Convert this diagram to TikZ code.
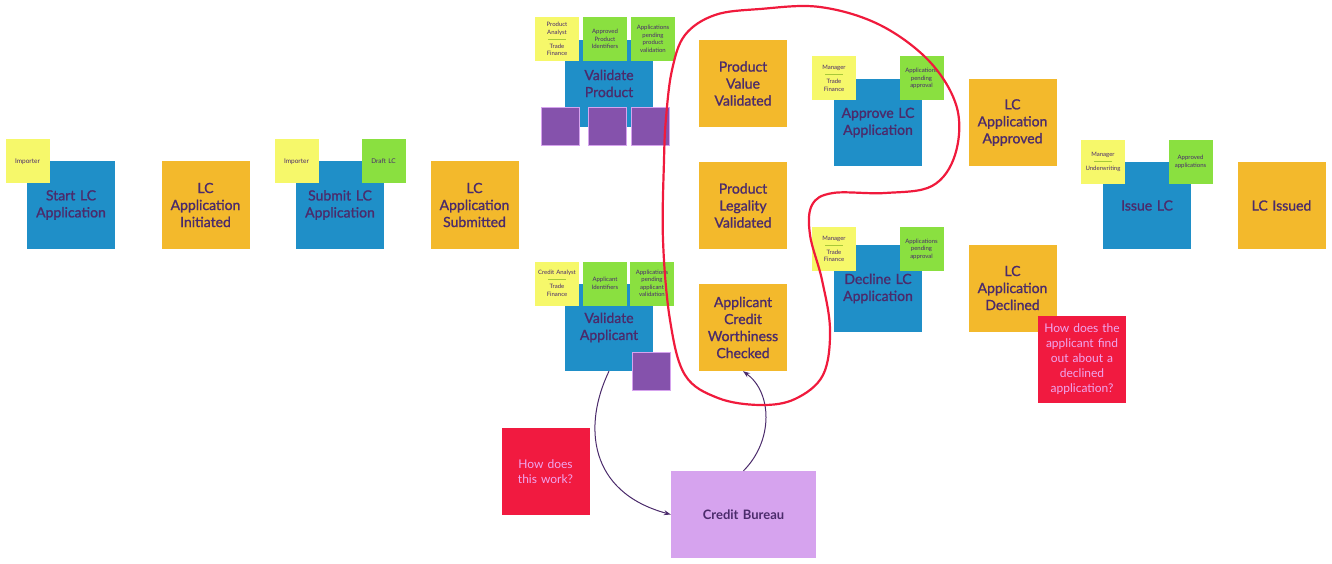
\documentclass[tikz,border=0pt]{standalone}
\usepackage{fontspec}
\setmainfont{Lato}
\newfontfamily\medfont{Lato}[FakeBold=1.2]
\usetikzlibrary{arrows.meta}
\definecolor{cblue}{HTML}{1F8FC8}
\definecolor{corange}{HTML}{F3B92C}
\definecolor{cyellow}{HTML}{F6F86A}
\definecolor{cgreen}{HTML}{8AE040}
\definecolor{cpurple}{HTML}{8552AC}
\definecolor{clav}{HTML}{D6A3EE}
\definecolor{cred}{HTML}{F11A40}
\definecolor{ctext}{HTML}{4B2B6B}
\definecolor{cpink}{HTML}{EEA6EE}
\definecolor{cloop}{HTML}{F01A3C}
\definecolor{csep}{HTML}{A8C838}
\newcommand{\sepline}{{\color{csep}\rule[1.5pt]{18pt}{0.6pt}}}
\begin{document}
\begin{tikzpicture}[x=1pt,y=-1pt,
  box/.style={minimum width=88pt, minimum height=87pt, inner sep=2pt, align=center,
    text width=84pt, font=\medfont\fontsize{14}{17}\selectfont, text=ctext, anchor=center},
  action/.style={box, fill=cblue},
  event/.style={box, fill=corange},
  note/.style={minimum width=44pt, minimum height=44pt, inner sep=1pt, text width=42pt,
    align=center, font=\fontsize{6}{7.5}\selectfont, text=ctext},
  role/.style={note, fill=cyellow},
  data/.style={note, fill=cgreen},
  extra/.style={note, fill=cpurple, draw=clav, line width=0.8pt, minimum width=38pt, minimum height=38pt, text width=36pt},
  question/.style={box, fill=cred, text=cpink, font=\fontsize{12}{15}\selectfont},
  system/.style={box, fill=clav, minimum width=145pt, text width=140pt, font=\bfseries\fontsize{13}{17}\selectfont},
  flow/.style={-{Stealth[length=7pt,width=5pt]}, ctext, line width=1pt}
]
\useasboundingbox (0,0) rectangle (1332,564);

% main boxes
\node[action] (start) at (71,205) {Start LC\\Application};
\node[event] (init) at (205.5,205) {LC\\Application\\Initiated};
\node[action] (submit) at (340,205) {Submit LC\\Application};
\node[event] (subm) at (474.5,205) {LC\\Application\\Submitted};
\node[action] (vp) at (609,83.5) {Validate\\Product};
\node[action] (va) at (609,327.5) {Validate\\Applicant};
\node[event] (pvv) at (743,83.5) {Product\\Value\\Validated};
\node[event] (plv) at (743,205.5) {Product\\Legality\\Validated};
\node[event] (acwc) at (743,327.5) {Applicant\\Credit\\Worthiness\\Checked};
\node[action] (appr) at (878,122.5) {Approve LC\\Application};
\node[action] (decl) at (878,288.5) {Decline LC\\Application};
\node[event] (approved) at (1012.5,122.5) {LC\\Application\\Approved};
\node[event] (declined) at (1012.5,288) {LC\\Application\\Declined};
\node[action] (issue) at (1147,205.5) {Issue LC};
\node[event] (issued) at (1281.5,205.5) {LC Issued};
\node[system] (cb) at (743.5,514.5) {Credit Bureau};
\node[question] (q1) at (545.5,471.5) {How does\\this work?};
\node[question] (q2) at (1082,359) {How does the\\applicant find\\out about a\\declined\\application?};

% sticky notes
\node[role, font=\fontsize{6.5}{8}\selectfont] (n1) at (27.5,161.5) {Importer};
\node[role, font=\fontsize{6.5}{8}\selectfont] (n2) at (296.5,161.5) {Importer};
\node[data, font=\fontsize{6.5}{8}\selectfont] (n3) at (383.5,161.5) {Draft LC};
\node[role] (n4) at (557,39) {Product\\Analyst\\[-1pt]\sepline\\Trade\\Finance};
\node[data] (n5) at (605,39) {Approved\\Product\\Identifiers};
\node[data] (n6) at (653,39) {Applications\\pending\\product\\validation};
\node[extra] (p1) at (560,126.5) {};
\node[extra] (p2) at (607,126.5) {};
\node[extra] (p3) at (650.5,126.5) {};
\node[role] (n7) at (557,283.5) {Credit Analyst\\[-1pt]\sepline\\Trade\\Finance};
\node[data] (n8) at (605,283.5) {Applicant\\Identifiers};
\node[data] (n9) at (652,283.5) {Applications\\pending\\applicant\\validation};
\node[extra] (p4) at (651.5,371.5) {};
\node[role] (n10) at (834,78.5) {Manager\\[-1pt]\sepline\\Trade\\Finance};
\node[data] (n11) at (921.5,78.5) {Applications\\pending\\approval};
\node[role] (n12) at (834,249) {Manager\\[-1pt]\sepline\\Trade\\Finance};
\node[data] (n13) at (921.5,249) {Applications\\pending\\approval};
\node[role] (n14) at (1103,162) {Manager\\[-1pt]\sepline\\Underwriting};
\node[data] (n15) at (1190.5,162) {Approved\\applications};

% connectors
\draw[flow] (va.south) .. controls (583,425) and (588,492) .. (cb.west);
\draw[flow] (cb.north) .. controls (774,440) and (772,392) .. (acwc.south);

% freehand loop
\draw[cloop, line width=2.2pt, line join=round] plot[smooth cycle, tension=0.6] coordinates {
 (666,118) (672,70) (685,35) (715,15) (760,9) (820,7) (880,25) (930,62) (957,108)
 (955,155) (932,186) (885,193) (833,193) (812,205) (810,235) (822,280) (830,330)
 (823,375) (795,399) (760,405) (718,398) (685,375) (670,320) (663,240) (664,160)};
\end{tikzpicture}
\end{document}
